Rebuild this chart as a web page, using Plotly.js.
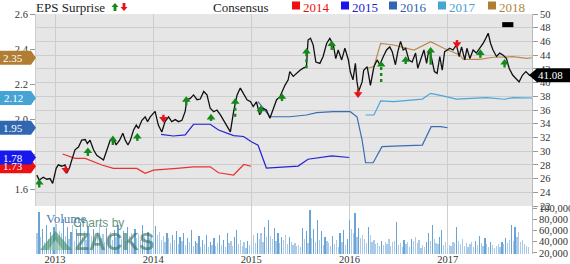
<!DOCTYPE html>
<html>
<head>
<meta charset="utf-8">
<script src="https://cdn.plot.ly/plotly-3.0.1.min.js"></script>
<style>
  html, body { margin: 0; padding: 0; background: #ffffff; }
  #chart { width: 570px; height: 264px; }
</style>
</head>
<body>
<div id="chart"></div>
<script>
// ---- Share price (right axis) ----
const priceDates = ['2012-10-25','2012-11-03','2012-11-18','2012-12-01','2012-12-13','2012-12-23','2013-01-05','2013-01-13','2013-01-26','2013-02-07','2013-02-13','2013-02-23','2013-03-04','2013-03-16','2013-03-29','2013-04-10','2013-04-23','2013-05-01','2013-05-11','2013-05-24','2013-06-05','2013-06-18','2013-06-30','2013-07-13','2013-07-25','2013-08-06','2013-08-16','2013-08-29','2013-09-10','2013-09-19','2013-09-29','2013-10-08','2013-10-20','2013-10-30','2013-11-07','2013-11-20','2013-12-02','2013-12-11','2013-12-21','2014-01-08','2014-01-20','2014-02-02','2014-02-14','2014-02-27','2014-03-11','2014-03-24','2014-04-05','2014-04-18','2014-04-30','2014-05-06','2014-05-19','2014-05-31','2014-06-13','2014-06-25','2014-07-08','2014-07-20','2014-08-01','2014-08-14','2014-08-26','2014-09-08','2014-09-20','2014-10-03','2014-10-15','2014-10-27','2014-11-09','2014-11-21','2014-12-04','2014-12-16','2014-12-29','2015-01-08','2015-01-20','2015-02-01','2015-02-14','2015-02-26','2015-03-11','2015-03-23','2015-04-05','2015-04-17','2015-05-06','2015-05-18','2015-05-24','2015-06-06','2015-06-18','2015-07-01','2015-07-13','2015-07-25','2015-07-31','2015-08-09','2015-08-19','2015-08-29','2015-09-13','2015-09-25','2015-10-08','2015-10-20','2015-11-02','2015-11-11','2015-11-20','2015-12-03','2015-12-15','2015-12-28','2016-01-04','2016-01-14','2016-01-23','2016-01-29','2016-02-04','2016-02-17','2016-02-23','2016-03-07','2016-03-19','2016-04-01','2016-04-13','2016-04-23','2016-05-06','2016-05-18','2016-05-30','2016-06-08','2016-06-20','2016-06-29','2016-07-09','2016-07-19','2016-07-28','2016-08-09','2016-08-21','2016-09-03','2016-09-11','2016-09-21','2016-10-04','2016-10-14','2016-10-22','2016-10-31','2016-11-12','2016-11-22','2016-12-02','2016-12-11','2016-12-20','2016-12-30','2017-01-08','2017-01-20','2017-02-02','2017-02-12','2017-02-21','2017-03-05','2017-03-13','2017-03-24','2017-04-05','2017-04-17','2017-04-30','2017-05-12','2017-05-22','2017-05-31','2017-06-09','2017-06-18','2017-07-01','2017-07-13','2017-07-26','2017-08-07','2017-08-17','2017-08-30','2017-09-11','2017-09-23','2017-10-06','2017-10-18','2017-10-31','2017-11-10'];
const priceValues = [26.5,25.8,26.2,25.9,26.0,25.3,27.5,28.0,27.8,28.0,26.8,27.5,28.7,30.2,30.6,31.6,31.7,31.1,31.6,30.2,29.4,29.0,28.7,30.2,31.6,31.9,30.9,31.6,32.6,31.6,30.9,31.6,33.1,33.8,33.3,34.5,35.0,34.3,35.0,35.8,33.8,32.8,34.3,35.0,34.3,34.6,34.3,34.5,35.8,37.5,37.7,38.2,37.5,37.6,38.7,38.2,36.25,35.75,36.0,35.3,34.5,33.8,32.8,35.75,38.2,39.2,38.2,37.5,37.2,36.5,37.2,35.3,36.25,36.0,34.8,36.0,37.5,37.9,39.6,40.4,41.6,40.9,41.35,41.8,42.1,42.3,46.2,46.45,45.5,43.0,42.8,43.8,45.7,46.45,45.5,43.5,44.75,43.3,45.0,43.3,41.6,40.4,42.8,40.1,38.7,40.1,41.8,42.3,39.6,42.3,43.3,42.6,43.8,44.75,45.2,44.5,42.6,44.5,46.0,44.75,45.0,43.3,43.0,44.3,42.1,43.3,44.75,42.8,44.75,43.8,41.6,41.35,43.8,41.8,44.5,44.75,45.0,44.75,45.5,43.8,45.2,43.3,45.0,43.5,44.75,44.3,45.0,45.7,46.45,47.2,45.7,44.75,43.8,44.3,44.0,43.5,42.1,41.1,40.6,40.1,41.1,41.6,41.1,41.08];

// ---- Consensus EPS estimates by fiscal year (left axis) ----
const fy2014Dates = ['2013-01-29','2013-03-16','2013-04-23','2013-06-24','2013-08-06','2013-11-01','2013-12-02','2014-01-02','2014-03-30','2014-05-31','2014-08-01','2014-09-01','2014-10-27','2014-12-04','2014-12-31'];
const fy2014Eps = [1.80,1.775,1.775,1.737,1.718,1.718,1.69,1.708,1.718,1.727,1.727,1.693,1.68,1.74,1.73];
const fy2015Dates = ['2014-01-30','2014-03-17','2014-04-30','2014-05-31','2014-08-01','2014-09-01','2014-10-27','2014-12-03','2015-01-01','2015-01-26','2015-02-26','2015-06-24','2015-07-31','2015-10-27','2015-12-31'];
const fy2015Eps = [1.912,1.903,1.909,1.97,1.97,1.937,1.905,1.90,1.87,1.85,1.72,1.731,1.77,1.789,1.78];
const fy2016Dates = ['2015-01-26','2015-03-11','2015-05-24','2015-07-25','2015-09-01','2015-11-02','2016-01-04','2016-01-29','2016-02-17','2016-03-01','2016-03-29','2016-05-01','2016-07-09','2016-09-28','2016-10-31','2016-12-05','2016-12-31'];
const fy2016Eps = [2.099,2.013,2.013,2.023,2.036,2.042,2.042,2.013,1.88,1.75,1.75,1.842,1.846,1.851,1.956,1.956,1.95];
const fy2017Dates = ['2016-03-01','2016-04-01','2016-04-26','2016-06-14','2016-09-28','2016-10-29','2016-12-17','2017-02-02','2017-05-25','2017-07-31','2017-08-31','2017-10-21','2017-11-10'];
const fy2017Eps = [2.023,2.023,2.103,2.099,2.114,2.147,2.131,2.114,2.122,2.113,2.122,2.118,2.12];
const fy2018Dates = ['2016-03-07','2016-04-01','2016-04-26','2016-06-14','2016-07-09','2016-08-28','2016-10-29','2016-12-17','2017-02-14','2017-02-27','2017-04-30','2017-06-19','2017-08-31','2017-10-21','2017-11-10'];
const fy2018Eps = [2.29,2.30,2.432,2.423,2.413,2.394,2.442,2.404,2.366,2.341,2.341,2.353,2.356,2.347,2.35];

// ---- EPS surprise arrows (head and tail on the price scale) ----
const surpriseDates = ['2012-11-03','2013-02-10','2013-05-03','2013-08-04','2013-11-03','2014-02-08','2014-05-04','2014-08-04','2014-11-02','2015-02-05','2015-04-25','2015-07-25','2015-10-27','2016-02-02','2016-04-28','2016-07-28','2016-10-29','2017-02-04','2017-05-02','2017-07-31'];
const surpriseDir = ['up','down','up','up','up','down','up','up','up','up','up','up','up','down','up','up','up','down','up','up'];
const surpriseHead = [25.4,27.25,30.0,31.73,32.1,34.7,37.46,34.9,37.2,36.1,37.9,44.5,45.6,38.3,42.6,43.3,44.65,45.6,44.3,42.9];
const surpriseTail = [24.7,27.8,29.3,30.9,31.5,35.3,36.7,34.4,35.0,35.5,37.3,42.1,44.75,39.0,40.1,42.7,42.6,46.2,43.6,42.2];

// next report marker
const nextReportDate = ['2017-08-12'];
const nextReportLevel = [48.45];

// ---- Weekly volume, thousands (weeks from volumeStart) ----
const volumeStart = '2012-10-26';
const vol2012 = [55,93,48,62,40,70,45,58,38,66];
const vol2013 = [72,48,60,55,80,50,66,45,58,70,42,62,52,75,48,60,44,68,55,50,63,47,58,72,46,54,40,65,50,57,43,61,48,70,52,45,59,41,66,50,55,38,62,47,53,44,69,49,42,58,46,51];
const vol2014 = [45,68,52,57,44,50,40,55,47,38,52,43,60,36,48,41,55,34,46,39,61,33,42,37,50,31,44,36,52,30,40,35,47,32,38,52,34,43,30,55,37,41,33,48,61,36,44,32,39,29,42,35];
const vol2015 = [42,52,38,55,45,55,40,67,48,79,50,45,64,42,55,38,49,44,52,36,49,40,34,37,33,35,31,64,45,60,38,96,47,62,40,79,44,60,35,48,42,38,33,50,36,44,30,55,40,61,35,45];
const vol2016 = [79,62,55,91,48,64,47,52,45,38,66,52,40,44,36,38,33,42,35,40,36,45,33,39,41,75,34,38,31,44,36,40,30,45,42,49,38,44,29,35,31,40,55,42,70,45,38,36,48,61,34,40];
const vol2017 = [29,35,32,40,38,66,42,36,45,33,38,31,36,40,30,42,35,50,38,33,46,36,30,39,34,28,33,36,31,40,36,47,38,44,70,42,66,48,57,40,43,36,32,30];

// ---- Axis ticks ----
const yearTicks = ['2013-01-01','2014-01-01','2015-01-01','2016-01-01','2017-01-01'];
const yearLabels = ['2013','2014','2015','2016','2017'];
const epsTicks = [1.6,1.8,2.0,2.2,2.4,2.6];
const volumeTicks = [20000,40000,60000,80000,100000];

// ---- Styling ----
const FONT = 'Liberation Serif, Times New Roman, serif';
const GREEN = '#14891a', RED = '#e8101a';
const series = [
  {name:'2014', dates:fy2014Dates, eps:fy2014Eps, color:'#e83232', text:'#ee1111', tag:'#ee1111'},
  {name:'2015', dates:fy2015Dates, eps:fy2015Eps, color:'#2323d6', text:'#1b1bd0', tag:'#1818ee'},
  {name:'2016', dates:fy2016Dates, eps:fy2016Eps, color:'#3a6db3', text:'#2b62ab', tag:'#2f68b0'},
  {name:'2017', dates:fy2017Dates, eps:fy2017Eps, color:'#4aa6da', text:'#45a2d6', tag:'#45a3d6'},
  {name:'2018', dates:fy2018Dates, eps:fy2018Eps, color:'#b98b4c', text:'#b08440', tag:'#b07d32'}
];

const traces = [];

// volume bars (weeks with a clear pick-up in volume are drawn a shade darker)
const volumeK = [].concat(vol2012, vol2013, vol2014, vol2015, vol2016, vol2017);
const t0 = new Date(volumeStart + 'T00:00:00Z').getTime();
const volDates = volumeK.map((_, i) => new Date(t0 + i * 7 * 86400000).toISOString().slice(0, 10));
const volColors = volumeK.map((v, i) => (i > 0 && v > volumeK[i - 1] * 1.25) ? '#6aa3d6' : '#a9cae8');
traces.push({
  type:'bar', x: volDates, y: volumeK.map(v => v * 1000), xaxis:'x', yaxis:'y3',
  width: 4.6 * 86400000, marker:{color: volColors, line:{width:0}}, hoverinfo:'skip'
});

// consensus lines
series.forEach(s => traces.push({
  type:'scatter', mode:'lines', x: s.dates, y: s.eps, xaxis:'x', yaxis:'y',
  line:{color: s.color, width: 1.2}, hoverinfo:'skip'
}));

// price line
traces.push({
  type:'scatter', mode:'lines', x: priceDates, y: priceValues, xaxis:'x', yaxis:'y2',
  line:{color:'#111111', width:1.3}, hoverinfo:'skip'
});

// surprise arrow stems
function stemTrace(filter, color, dash) {
  const xs = [], ys = [];
  surpriseDates.forEach((d, i) => {
    if (!filter(i)) return;
    xs.push(d, d, null);
    ys.push(surpriseTail[i], surpriseHead[i], null);
  });
  return {type:'scatter', mode:'lines', x: xs, y: ys, xaxis:'x', yaxis:'y2',
          line:{color, width: 2.4, dash}, connectgaps:false, hoverinfo:'skip'};
}
const isLong = i => Math.abs(surpriseHead[i] - surpriseTail[i]) > 2.1;
traces.push(stemTrace(i => surpriseDir[i] === 'up' && !isLong(i), GREEN, 'solid'));
traces.push(stemTrace(i => surpriseDir[i] === 'up' && isLong(i), GREEN, 'dot'));
traces.push(stemTrace(i => surpriseDir[i] === 'down', RED, 'solid'));
// arrow heads
traces.push({
  type:'scatter', mode:'markers', x: surpriseDates, y: surpriseHead, xaxis:'x', yaxis:'y2',
  marker:{
    symbol: surpriseDir.map(d => d === 'up' ? 'triangle-up' : 'triangle-down'),
    color: surpriseDir.map(d => d === 'up' ? GREEN : RED),
    size: 7.5, line:{width:0}
  }, hoverinfo:'skip'
});

// next report marker
traces.push({
  type:'scatter', mode:'markers', x: nextReportDate, y: nextReportLevel, xaxis:'x', yaxis:'y2',
  marker:{symbol:'line-ew', size:8, line:{width:5, color:'#000000'}}, hoverinfo:'skip'
});

// ---- Shapes & annotations ----
const shapes = [];
const annotations = [];

// white volume panel
shapes.push({type:'rect', xref:'paper', yref:'paper', x0:0, x1:1, y0:0, y1:0.2,
  fillcolor:'#ffffff', line:{width:0}, layer:'below'});

// left-side latest-estimate tags (later years sit on top of earlier ones)
const tagOrder = ['2014','2015','2016','2017','2018'];
tagOrder.forEach(name => {
  const s = series.find(q => q.name === name);
  const v = s.eps[s.eps.length - 1];
  shapes.push({type:'path', xref:'paper', xsizemode:'pixel', xanchor:0,
    yref:'y', ysizemode:'pixel', yanchor:v,
    path:'M -36,7 L -5,7 L 0,0 L -5,-7 L -36,-7 Z',
    fillcolor:s.tag, line:{width:0}, layer:'above'});
  annotations.push({xref:'paper', x:0, xshift:-23, yref:'y', y:v, text:v.toFixed(2),
    showarrow:false, xanchor:'center', yanchor:'middle',
    font:{family:FONT, size:11, color:'#ffffff'}});
});

// last price tag
const lastPrice = priceValues[priceValues.length - 1];
shapes.push({type:'path', xref:'paper', xsizemode:'pixel', xanchor:1,
  yref:'y2', ysizemode:'pixel', yanchor:lastPrice,
  path:'M -3,0 L 5,7 L 38,7 L 38,-7 L 5,-7 Z',
  fillcolor:'#000000', line:{width:0}, layer:'above'});
annotations.push({xref:'paper', x:1, xshift:18, yref:'y2', y:lastPrice, text:lastPrice.toFixed(2),
  showarrow:false, xanchor:'center', yanchor:'middle',
  font:{family:FONT, size:11, color:'#ffffff'}});

// header legend: pixel positions measured from the plot's top-left corner
function headerText(text, left, color, size) {
  annotations.push({xref:'paper', x:0, xshift:left - 2, yref:'paper', y:1, yshift:7,
    text, showarrow:false, xanchor:'left', yanchor:'middle',
    font:{family:FONT, size:size || 13, color}});
}
headerText('EPS Surprise', 0, '#222222');
shapes.push({type:'path', xref:'paper', xsizemode:'pixel', xanchor:0, yref:'paper', ysizemode:'pixel', yanchor:1,
  path:'M 77.6,3 L 80.4,3 L 80.4,7 L 82.5,7 L 79,11 L 75.5,7 L 77.6,7 Z', fillcolor:GREEN, line:{width:0}});
shapes.push({type:'path', xref:'paper', xsizemode:'pixel', xanchor:0, yref:'paper', ysizemode:'pixel', yanchor:1,
  path:'M 86.6,11 L 89.4,11 L 89.4,7 L 91.5,7 L 88,3 L 84.5,7 L 86.6,7 Z', fillcolor:RED, line:{width:0}});
headerText('Consensus', 177, '#222222');
const legendSquareLeft = [256, 305, 353, 402, 452];
series.forEach((s, i) => {
  const l = legendSquareLeft[i];
  shapes.push({type:'rect', xref:'paper', xsizemode:'pixel', xanchor:0, yref:'paper', ysizemode:'pixel', yanchor:1,
    x0:l, x1:l + 8, y0:4.5, y1:12.5, fillcolor:s.tag, line:{width:0}});
  headerText(s.name, l + 11, s.text);
});

// volume caption and watermark
annotations.push({xref:'paper', x:0, xshift:8, yref:'paper', y:0.2, yshift:-12,
  text:'Volume', showarrow:false, xanchor:'left', yanchor:'middle',
  font:{family:FONT, size:13, color:'#4a7fb2'}});
annotations.push({xref:'paper', x:0, xshift:35, yref:'paper', y:0, yshift:31,
  text:'Charts by', showarrow:false, xanchor:'left', yanchor:'middle',
  font:{family:'Liberation Sans, Arial, sans-serif', size:12, color:'rgba(60,120,90,0.8)'}});
annotations.push({xref:'paper', x:0, xshift:37, yref:'paper', y:0, yshift:12,
  text:'<b>ZACKS</b>', showarrow:false, xanchor:'left', yanchor:'middle',
  font:{family:'Liberation Sans, Arial, sans-serif', size:23, color:'rgba(45,110,80,0.62)'}});
shapes.push({type:'path', xref:'paper', xsizemode:'pixel', xanchor:0, yref:'paper', ysizemode:'pixel', yanchor:0,
  path:'M 4,4 L 36,4 L 19.5,23 Z', fillcolor:'rgba(60,140,95,0.6)', line:{width:0}});
shapes.push({type:'path', xref:'paper', xsizemode:'pixel', xanchor:0, yref:'paper', ysizemode:'pixel', yanchor:0,
  path:'M 12,4 L 19.5,14 L 27,4 Z', fillcolor:'rgba(255,255,255,0.35)', line:{width:0}});

const GRID = '#cdcdcd';
const layout = {
  width:570, height:264,
  margin:{l:36, r:38, t:14, b:10},
  paper_bgcolor:'#ffffff', plot_bgcolor:'#e6e6e6',
  font:{family:FONT, size:10.5, color:'#333333'},
  showlegend:false, bargap:0,
  xaxis:{type:'date', range:['2012-10-22','2017-11-10'], tickvals:yearTicks, ticktext:yearLabels,
    showgrid:true, gridcolor:GRID, gridwidth:1, zeroline:false, anchor:'y3', ticks:'', showline:false,
    ticklabelstandoff:-3, automargin:false, tickfont:{family:FONT, size:10.5, color:'#333333'}},
  yaxis:{domain:[0.2, 1], range:[1.503, 2.6], tickvals:epsTicks, tickformat:'.1f',
    showgrid:false, zeroline:false, ticks:'outside', ticklen:5, tickcolor:'#999999',
    showline:true, linecolor:GRID, automargin:false},
  yaxis2:{overlaying:'y', side:'right', range:[22, 50], tick0:22, dtick:2,
    showgrid:true, gridcolor:GRID, zeroline:false, ticks:'outside', ticklen:5, tickcolor:'#999999',
    showline:true, linecolor:'#bbbbbb', automargin:false},
  yaxis3:{domain:[0, 0.2], range:[18200, 103600], tickvals:volumeTicks, tickformat:',d', side:'right', anchor:'x',
    showgrid:false, zeroline:false, ticks:'outside', ticklen:4, tickcolor:'#999999',
    showline:true, linecolor:'#bbbbbb', automargin:false},
  shapes, annotations
};

Plotly.newPlot('chart', traces, layout, {staticPlot:true, displayModeBar:false});
</script>
</body>
</html>
